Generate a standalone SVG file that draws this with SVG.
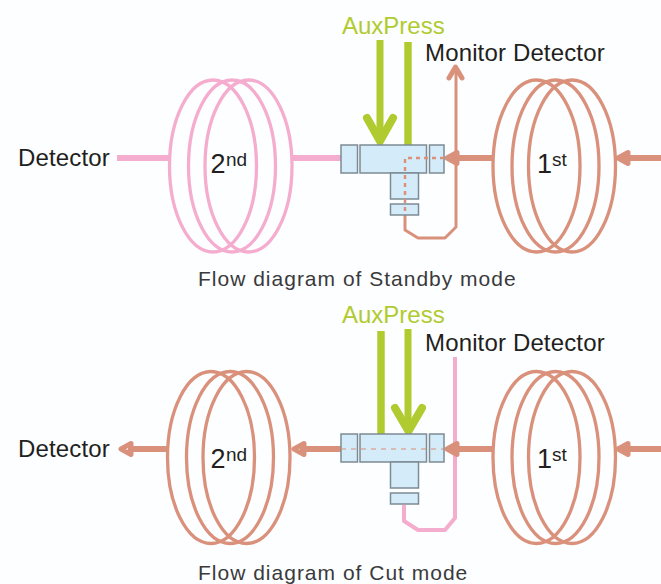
<svg xmlns="http://www.w3.org/2000/svg" width="661" height="584" viewBox="0 0 661 584">
<style>
text{font-family:"Liberation Sans",Arial,sans-serif;fill:#231f20}
.lbl{font-size:24px;letter-spacing:.15px}.cap{font-size:21px;fill:#3a3a3c;letter-spacing:1px}.aux{font-size:24px;fill:#b0cb30}
.num{font-size:27px}.sup{font-size:19px}
.coil{fill:none;stroke-width:3.3}
.pink{stroke:#f5adcf}.sal{stroke:#da917c}
.grn{stroke:#b0cb30}
.box{fill:#d4ecfa;stroke:#7d8b94;stroke-width:1.500}
.l{fill:none;stroke-linejoin:round}
.hd{fill:none;stroke-linejoin:round;stroke-linecap:round;stroke-width:5}
</style>
<defs>
<g id="coil"><ellipse cx="-19" cy="0" rx="43.500" ry="86"/><ellipse cx="0" cy="0" rx="43.500" ry="86"/><ellipse cx="16.500" cy="0" rx="43.500" ry="86"/></g>
<g id="valve" class="box"><rect x="341" y="0" width="16.500" height="28"/><rect x="360" y="0" width="66.500" height="28"/><rect x="429.500" y="0" width="14.500" height="28"/><rect x="390.500" y="28" width="28" height="26"/><rect x="390.500" y="59" width="28" height="11"/></g>
</defs>
<rect width="661" height="584" fill="#fdfeff"/>
<g id="connectors">
<path class="l pink" stroke-width="6" d="M117 158H170M292 158H341"/>
<path class="l sal" stroke-width="3" d="M456 72V227L445 238H418L405 230V215"/>
<path class="hd sal" stroke-width="4" d="M449 78L455.500 67L462 78"/>
<path class="l sal" stroke-width="6" d="M492 158H450M661 158H622"/>
<path class="hd sal" d="M457 152.500L447 158L457 163.500ZM628 152.500L618 158L628 163.500Z"/>
<path class="l grn" stroke-width="7" d="M380 40V135"/>
<path class="l grn" stroke-width="7.500" d="M408 42V146"/>
<path class="hd grn" style="stroke-width:8;stroke-linejoin:miter" d="M367 118L380 141L393 118"/>
<path class="l pink" stroke-width="4" d="M455 357V518L445 530H418L404 521V505"/>
<path class="l sal" stroke-width="6" d="M168 449H128M341 449H300M492 449H450M661 449H622"/>
<path class="hd sal" d="M131 443.500L121 449L131 454.500ZM304 443.500L294 449L304 454.500ZM457 443.500L447 449L457 454.500ZM628 443.500L618 449L628 454.500Z"/>
<path class="l grn" stroke-width="7.500" d="M381 331V435"/>
<path class="l grn" stroke-width="7" d="M408 329V425"/>
<path class="hd grn" style="stroke-width:8;stroke-linejoin:miter" d="M395 408L408.500 431L422 408"/>
</g>
<g id="valve-standby"><use href="#valve" y="145"/><path class="l sal" stroke-width="2.500" stroke-dasharray="4 4" d="M444 158H405V215"/></g>
<g id="valve-cut"><use href="#valve" y="434"/><path class="l sal" stroke-width="1.500" stroke-dasharray="5 5" opacity=".7" d="M341 449H444"/></g>
<g id="coil-2nd-standby" class="coil pink"><use href="#coil" x="232" y="166"/></g>
<g id="coil-1st-standby" class="coil sal"><use href="#coil" x="555.500" y="166"/></g>
<g id="coil-2nd-cut" class="coil sal"><use href="#coil" x="230" y="457.500"/></g>
<g id="coil-1st-cut" class="coil sal"><use href="#coil" x="555.500" y="457.500"/></g>
<g id="labels">
<text class="aux" x="342" y="34">AuxPress</text>
<text class="lbl" x="425" y="61">Monitor Detector</text>
<text class="lbl" x="18" y="166">Detector</text>
<text class="num" x="210.500" y="173">2</text><text class="sup" x="226" y="166">nd</text>
<text class="num" x="537" y="173">1</text><text class="sup" x="552" y="166">st</text>
<text class="cap" x="198" y="286">Flow diagram of Standby mode</text>
<text class="aux" x="342" y="323">AuxPress</text>
<text class="lbl" x="425" y="351">Monitor Detector</text>
<text class="lbl" x="18" y="457">Detector</text>
<text class="num" x="210.500" y="468">2</text><text class="sup" x="226" y="461">nd</text>
<text class="num" x="537" y="468">1</text><text class="sup" x="552" y="461">st</text>
<text class="cap" x="198" y="580">Flow diagram of Cut mode</text>
</g>
</svg>
